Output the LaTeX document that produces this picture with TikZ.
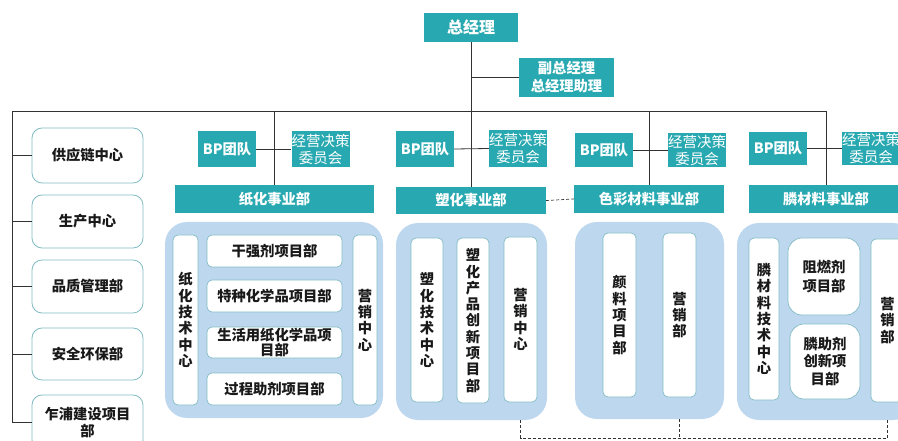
\documentclass[tikz,border=0pt]{standalone}
\usepackage{fontspec}
\setmainfont{Noto Sans CJK SC}
\definecolor{tealc}{RGB}{40,168,176}
\definecolor{panelc}{RGB}{189,215,238}
\definecolor{edgec}{RGB}{130,188,196}
\definecolor{linec}{RGB}{50,50,50}
\definecolor{txtc}{RGB}{25,25,25}
\newcommand\myfs{\fontsize{14.3}{17}\selectfont}
\newcommand\myvs{\fontsize{14.3}{16.3}\selectfont}
\begin{document}
\begin{tikzpicture}[x=1pt,y=-1pt,
  tealbox/.style={fill=tealc, text=white, font=\bfseries\myfs, inner sep=0pt, align=center},
  teallight/.style={fill=tealc, text=white, font=\fontsize{14.5}{17}\selectfont, inner sep=0pt, align=center},
  leftbox/.style={draw=edgec, line width=0.8pt, fill=white, rounded corners=10pt, text=txtc, font=\bfseries\myfs, inner sep=0pt, align=center, minimum width=111pt},
  panel/.style={fill=panelc, rounded corners=22pt, inner sep=0pt},
  wbox/.style={draw=edgec, line width=0.7pt, fill=white, rounded corners=5pt, text=txtc, font=\bfseries\myfs, inner sep=0pt, align=center},
  vbox/.style={wbox, font=\bfseries\myvs},
  conn/.style={draw=linec, line width=0.8pt},
  dconn/.style={draw=linec, line width=0.7pt, dashed, dash pattern=on 3pt off 2pt}]
\useasboundingbox (0,0) rectangle (898,441);
\clip (0,0) rectangle (898,441);

% top level
\node[tealbox, minimum width=94pt, minimum height=29pt, font=\bfseries\fontsize{16}{17}\selectfont] (zjl) at (471,27.5) {总经理};
\node[tealbox, minimum width=95pt, minimum height=39pt, font=\bfseries\fontsize{14.3}{18}\selectfont] (fzjl) at (566.5,77.5) {副总经理\\总经理助理};

% BP and committees
\node[tealbox, minimum width=58pt, minimum height=36pt] (bp1) at (227,149) {BP团队};
\node[teallight, minimum width=57pt, minimum height=36pt] (jy1) at (320.5,149) {经营决策\\委员会};
\node[tealbox, minimum width=58pt, minimum height=36pt] (bp2) at (425,149) {BP团队};
\node[teallight, minimum width=58pt, minimum height=37pt] (jy2) at (518,148.5) {经营决策\\委员会};
\node[tealbox, minimum width=58pt, minimum height=34pt] (bp3) at (604,150) {BP团队};
\node[teallight, minimum width=58pt, minimum height=34pt] (jy3) at (697,150) {经营决策\\委员会};
\node[tealbox, minimum width=58pt, minimum height=33pt] (bp4) at (778,148.5) {BP团队};
\node[teallight, minimum width=58pt, minimum height=33pt] (jy4) at (871,148.5) {经营决策\\委员会};

% divisions
\node[tealbox, minimum width=199pt, minimum height=28pt] (zh) at (274.5,199) {纸化事业部};
\node[tealbox, minimum width=150pt, minimum height=27pt] (sh) at (471,200.5) {塑化事业部};
\node[tealbox, minimum width=150pt, minimum height=28pt] (sc) at (649,199) {色彩材料事业部};
\node[tealbox, minimum width=154pt, minimum height=28pt] (ln) at (826,199) {膦材料事业部};

% left column
\node[leftbox, minimum height=55pt] (l1) at (87.5,155.5) {供应链中心};
\node[leftbox, minimum height=53pt] (l2) at (87.5,221.5) {生产中心};
\node[leftbox, minimum height=53pt] (l3) at (87.5,286.5) {品质管理部};
\node[leftbox, minimum height=52pt] (l4) at (87.5,354) {安全环保部};
\node[leftbox, minimum height=55pt, font=\bfseries\fontsize{14.3}{16.5}\selectfont] (l5) at (87.5,422.5) {乍浦建设项目\\部};

% panels
\node[panel, minimum width=218pt, minimum height=196pt] (p1) at (274,320) {};
\node[panel, minimum width=151pt, minimum height=197pt] (p2) at (471.5,321.5) {};
\node[panel, minimum width=149pt, minimum height=197pt] (p3) at (649.5,320.5) {};
\node[panel, minimum width=178pt, minimum height=197pt] (p4) at (826,321.5) {};

% panel 1
\node[vbox, minimum width=25pt, minimum height=170pt] (zhjs) at (185.5,320) {纸\\化\\技\\术\\中\\心};
\node[wbox, minimum width=135pt, minimum height=32pt] (i1) at (274.5,251) {干强剂项目部};
\node[wbox, minimum width=135pt, minimum height=32pt] (i2) at (274.5,296) {特种化学品项目部};
\node[wbox, minimum width=135pt, minimum height=31pt, font=\bfseries\fontsize{14.3}{15}\selectfont] (i3) at (274.5,342.5) {生活用纸化学品项\\目部};
\node[wbox, minimum width=135pt, minimum height=32pt] (i4) at (274.5,389) {过程助剂项目部};
\node[vbox, minimum width=24pt, minimum height=170pt] (yx1) at (365,320) {营\\销\\中\\心};

% panel 2
\node[vbox, minimum width=32pt, minimum height=164pt] (sjs) at (427,320) {塑\\化\\技\\术\\中\\心};
\node[vbox, minimum width=32pt, minimum height=165pt] (scx) at (473,320.5) {塑\\化\\产\\品\\创\\新\\项\\目\\部};
\node[vbox, minimum width=33pt, minimum height=165pt] (yx2) at (520.5,319.5) {营\\销\\中\\心};

% panel 3
\node[vbox, minimum width=33pt, minimum height=164pt] (yl) at (619.5,315) {颜\\料\\项\\目\\部};
\node[vbox, minimum width=33pt, minimum height=164pt] (yx3) at (679.5,315) {营\\销\\部};

% panel 4
\node[vbox, minimum width=30pt, minimum height=162pt] (ljs) at (764,319) {膦\\材\\料\\技\\术\\中\\心};
\node[wbox, rounded corners=14pt, minimum width=72pt, minimum height=77pt, font=\bfseries\fontsize{14.3}{19}\selectfont] (zr) at (824,276.5) {阻燃剂\\项目部};
\node[wbox, rounded corners=14pt, minimum width=70pt, minimum height=75pt, font=\bfseries\fontsize{14.3}{17.5}\selectfont] (lzj) at (825,361.5) {膦助剂\\创新项\\目部};
\node[vbox, minimum width=33pt, minimum height=163pt] (yx4) at (887.5,320.5) {营\\销\\部};

% bus
\coordinate (busL) at (12,111);
\coordinate (busR) at (826,111);
\coordinate (busB) at (12,422.5);
\draw[conn] (busL) -- (busR);
\draw[conn] (busL) -- (busB);
\foreach \n in {l1,l2,l3,l4,l5} \draw[conn] (\n.west) -- (\n.west -| busL);
\draw[conn] (zjl.south) -- (sh.north);
\draw[conn] (fzjl.west) -- (fzjl.west -| zjl.south);
\draw[conn] (zh.north) -- (zh.north |- busL);
\draw[conn] (sc.north) -- (sc.north |- busL);
\draw[conn] (ln.north) -- (ln.north |- busL);
\draw[conn] (bp1.east) -- (jy1.west);
\draw[conn] (bp2.east) -- (jy2.west);
\draw[conn] (bp3.east) -- (jy3.west);
\draw[conn] (bp4.east) -- (jy4.west);

% dashed links
\draw[dconn] (sh.east) -- (sc.west);
\coordinate (dlow) at (0,438);
\draw[dconn] (p2.south -| yx2) -- (dlow -| yx2) -- (dlow -| yx4) -- (p4.south -| yx4);
\draw[dconn] (p3.south -| yx3) -- (dlow -| yx3);
\end{tikzpicture}
\end{document}
